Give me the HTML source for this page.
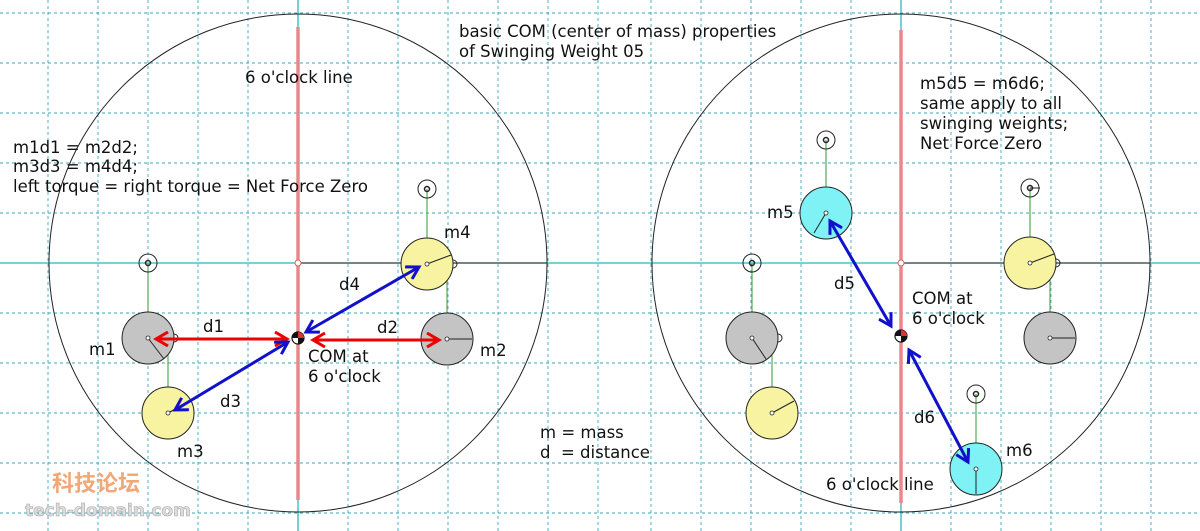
<!DOCTYPE html>
<html><head><meta charset="utf-8"><style>
html,body{margin:0;padding:0;background:#fff;}
svg{display:block;}
text{font-family:"DejaVu Sans","Liberation Sans",sans-serif;font-size:16.5px;fill:#111;}
</style></head><body>
<svg width="1200" height="531" viewBox="0 0 1200 531" xmlns="http://www.w3.org/2000/svg">
<defs>
<marker id="ar" viewBox="0 0 16 16" refX="13" refY="8" markerWidth="16" markerHeight="16" markerUnits="userSpaceOnUse" orient="auto-start-reverse"><path d="M1,1 L13,8 L1,15" fill="none" stroke="#e00" stroke-width="3"/></marker>
<marker id="ab" viewBox="0 0 16 16" refX="13" refY="8" markerWidth="16" markerHeight="16" markerUnits="userSpaceOnUse" orient="auto-start-reverse"><path d="M1,1 L13,8 L1,15" fill="none" stroke="#11c" stroke-width="3"/></marker>
</defs>
<g stroke="#3aa8b8" stroke-width="0.9" stroke-dasharray="3,3" fill="none">
<path d="M0,13H1200M0,63H1200M0,113H1200M0,163H1200M0,213H1200M0,313H1200M0,363H1200M0,413H1200M0,463H1200M0,513H1200"/>
<path d="M48,0V531M98,0V531M148,0V531M198,0V531M248,0V531M348,0V531M398,0V531M448,0V531M498,0V531M548,0V531M598,0V531"/>
<path d="M651,0V531M701,0V531M751,0V531M801,0V531M851,0V531M951,0V531M1001,0V531M1051,0V531M1101,0V531M1151,0V531"/>
</g>
<g stroke="#4fc0cc" stroke-width="1.5">
<path d="M0,263H1200M298,0V531M901,0V531"/>
</g>
<path d="M298,263H547M901,263H1150" stroke="#666" stroke-width="1.5"/>
<circle cx="298" cy="263" r="249" fill="none" stroke="#222" stroke-width="1"/>
<circle cx="901" cy="263" r="249" fill="none" stroke="#222" stroke-width="1"/>
<path d="M298,27V500M901,30V503" stroke="#e8888c" stroke-width="3.5"/>
<circle cx="298" cy="263" r="3" fill="#fff" stroke="#c66"/>
<circle cx="901" cy="263" r="3" fill="#fff" stroke="#c66"/>

<g stroke="#5a5" stroke-width="1.2">
<path d="M148,263V338M168,338V413M427,189V264M447,264V339"/>
<path d="M826,140V213M752,263V338M772,338V413M1030,188V263M1050,263V338M976,394V469"/>
</g>
<g stroke="#222" stroke-width="1">
<circle cx="148" cy="263" r="9" fill="none"/><circle cx="148" cy="263" r="2.5" fill="none" stroke-width="1.5"/>
<circle cx="427" cy="189" r="9" fill="none"/><circle cx="427" cy="189" r="2.5" fill="none" stroke-width="1.5"/>
<circle cx="826" cy="140" r="9" fill="none"/><circle cx="826" cy="140" r="2.5" fill="none" stroke-width="1.5"/>
<circle cx="752" cy="263" r="9" fill="none"/><circle cx="752" cy="263" r="2.5" fill="none" stroke-width="1.5"/>
<circle cx="1030" cy="188" r="9" fill="none"/><circle cx="1030" cy="188" r="2.5" fill="none" stroke-width="1.5"/><path d="M1030,188H1040"/>
<circle cx="976" cy="394" r="9" fill="none"/><circle cx="976" cy="394" r="2.5" fill="none" stroke-width="1.5"/>
<circle cx="174" cy="338" r="4" fill="none"/>
<circle cx="148" cy="338" r="26" fill="#c4c4c4"/><path d="M148,338L164,359"/>
<circle cx="168" cy="413" r="26" fill="#f7f3a0"/><path d="M168,413L190,401"/>
<circle cx="453" cy="264" r="4" fill="none"/>
<circle cx="427" cy="264" r="26" fill="#f7f3a0"/><path d="M427,264L451,255"/>
<circle cx="447" cy="339" r="26" fill="#c4c4c4"/><path d="M447,339H472"/>
<circle cx="826" cy="213" r="26" fill="#7ef2f4"/><path d="M826,213L814,233"/>
<circle cx="778" cy="338" r="4" fill="none"/>
<circle cx="752" cy="338" r="26" fill="#c4c4c4"/><path d="M752,338L766,359"/>
<circle cx="772" cy="413" r="26" fill="#f7f3a0"/><path d="M772,413L794,401"/>
<circle cx="1056" cy="263" r="4" fill="none"/>
<circle cx="1030" cy="263" r="26" fill="#f7f3a0"/><path d="M1030,263L1054,254"/>
<circle cx="1050" cy="338" r="26" fill="#c4c4c4"/><path d="M1050,338H1075"/>
<circle cx="976" cy="469" r="26" fill="#7ef2f4"/><path d="M976,469V494"/>
</g>
<g fill="#fff" stroke="#222" stroke-width="0.8">
<circle cx="148" cy="338" r="2"/><circle cx="168" cy="413" r="2"/><circle cx="427" cy="264" r="2"/><circle cx="447" cy="339" r="2"/>
<circle cx="826" cy="213" r="2"/><circle cx="752" cy="338" r="2"/><circle cx="772" cy="413" r="2"/><circle cx="1030" cy="263" r="2"/><circle cx="1050" cy="338" r="2"/><circle cx="976" cy="469" r="2"/>
</g>
<g>
<circle cx="298" cy="338" r="6" fill="#fff" stroke="#111" stroke-width="1.2"/>
<path d="M298,338V332A6,6 0 0 0 292,338Z M298,338V344A6,6 0 0 0 304,338Z" fill="#111"/>
<path d="M298,338H304A6,6 0 0 0 298,332Z" fill="#d33"/>
<circle cx="901" cy="336" r="6" fill="#fff" stroke="#111" stroke-width="1.2"/>
<path d="M901,336V330A6,6 0 0 0 895,336Z M901,336V342A6,6 0 0 0 907,336Z" fill="#111"/>
<path d="M901,336H907A6,6 0 0 0 901,330Z" fill="#d33"/>
</g>
<g stroke="#e00" stroke-width="3" fill="none">
<path d="M156,339H287" marker-start="url(#ar)" marker-end="url(#ar)"/>
<path d="M313,340H439" marker-start="url(#ar)" marker-end="url(#ar)"/>
</g>
<g stroke="#11c" stroke-width="3" fill="none">
<path d="M175,410L288,342" marker-start="url(#ab)" marker-end="url(#ab)"/>
<path d="M306,332L419,267" marker-start="url(#ab)" marker-end="url(#ab)"/>
<path d="M830,221L891,326" marker-start="url(#ab)" marker-end="url(#ab)"/>
<path d="M909,350L968,462" marker-start="url(#ab)" marker-end="url(#ab)"/>
</g>
<text x="459" y="37">basic COM (center of mass) properties</text>
<text x="459" y="57">of Swinging Weight 05</text>
<text x="245" y="83">6 o'clock line</text>
<text x="13" y="153">m1d1 = m2d2;</text>
<text x="13" y="172">m3d3 = m4d4;</text>
<text x="13" y="192">left torque = right torque = Net Force Zero</text>
<text x="920" y="89">m5d5 = m6d6;</text>
<text x="920" y="109">same apply to all</text>
<text x="920" y="129">swinging weights;</text>
<text x="920" y="149">Net Force Zero</text>
<text x="444" y="238">m4</text>
<text x="89" y="355">m1</text>
<text x="203" y="332">d1</text>
<text x="377" y="333">d2</text>
<text x="339" y="290">d4</text>
<text x="220" y="407">d3</text>
<text x="308" y="362">COM at</text>
<text x="308" y="382">6 o'clock</text>
<text x="480" y="356">m2</text>
<text x="177" y="457">m3</text>
<text x="767" y="218">m5</text>
<text x="834" y="289">d5</text>
<text x="912" y="304">COM at</text>
<text x="912" y="324">6 o'clock</text>
<text x="914" y="423">d6</text>
<text x="1006" y="456">m6</text>
<text x="826" y="490">6 o'clock line</text>
<text x="540" y="438">m = mass</text>
<text x="540" y="458">d&#160; = distance</text>
<text x="52" y="491" style="font-family:'Noto Sans CJK SC',sans-serif;font-size:22px;font-weight:bold;fill:#f0a878;">科技论坛</text>
<text x="25" y="516" style="font-size:17px;font-weight:bold;fill:#ddd;stroke:#aaa;stroke-width:0.6;">tech-domain.com</text>
</svg>
</body></html>
